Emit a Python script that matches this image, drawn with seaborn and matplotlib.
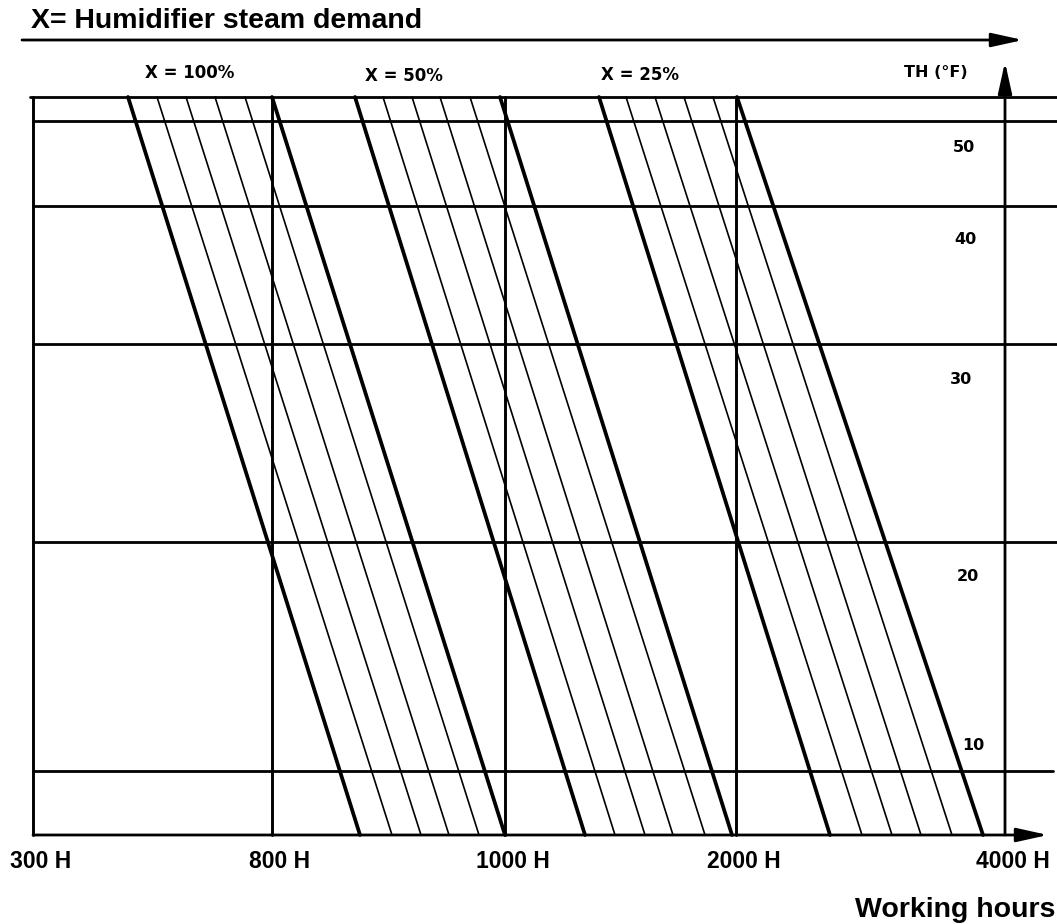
import matplotlib
matplotlib.use("Agg")
import matplotlib.pyplot as plt
import pandas as pd
import seaborn as sns

# ---- chart data (chart units: x measured from the 300 H axis, y above the hours axis) ----
hour_labels = ["300 H", "800 H", "1000 H", "2000 H", "4000 H"]
hour_pos = [0, 239, 472, 703, 972]

# hardness (TH) grid: frame top followed by the reference lines
th_grid = [738, 714, 629, 491, 293, 64]
th_labels = ["50", "40", "30", "20", "10"]
th_label_x = [931, 932, 928, 935, 940]
th_label_y = [683, 591, 451, 254, 85]

# steam-demand bundles: x of each line at the top and at the bottom of the chart
demand_labels = ["X = 100%", "X = 50%", "X = 25%"]
demand_label_x = [157, 371, 607]
demand_label_y = [757, 754, 755]
bundle_top = [
    [95, 124, 153, 182, 212, 239],
    [322, 350, 379, 407, 437, 467],
    [566, 593, 622, 651, 680, 704],
]
bundle_bottom = [
    [327, 359, 388, 416, 446, 472],
    [552, 582, 612, 640, 672, 699],
    [797, 829, 859, 888, 919, 950],
]

chart_top = th_grid[0]

sns.set_theme(style="white")
plt.rcParams["font.family"] = ["DejaVu Sans"]

fig = plt.figure(figsize=(10.57, 9.24), dpi=100)
ax = fig.add_axes([0, 0, 1, 1])
ax.set_xlim(-33, 1024)
ax.set_ylim(-89, 835)
ax.axis("off")

# ---- diagonal working-hour lines ----
rows = []
for b, (tops, bots) in enumerate(zip(bundle_top, bundle_bottom)):
    for i, (xt, xb) in enumerate(zip(tops, bots)):
        w = "thick" if i in (0, len(tops) - 1) else "thin"
        rows.append({"line": f"{b}-{i}", "x": xt, "y": chart_top, "weight": w})
        rows.append({"line": f"{b}-{i}", "x": xb, "y": 0, "weight": w})
lines = pd.DataFrame(rows)
sns.lineplot(data=lines, x="x", y="y", units="line", estimator=None,
             size="weight", sizes={"thick": 2.7, "thin": 1.2},
             color="black", legend=False, sort=False, ax=ax)

# ---- frame, grid and axes ----
ink = "black"
ax.plot([-3, 1024], [chart_top, chart_top], color=ink, lw=2.0)
for y in th_grid[1:-1]:
    ax.plot([0, 1024], [y, y], color=ink, lw=2.0)
ax.plot([0, 1020], [th_grid[-1], th_grid[-1]], color=ink, lw=2.0)

for x in hour_pos[:-1]:
    ax.plot([x, x], [0, chart_top], color=ink, lw=2.1)

arrow = dict(arrowstyle="-|>,head_length=1.9,head_width=0.42",
             color=ink, lw=2.0, shrinkA=0, shrinkB=0, mutation_scale=10)
# vertical TH axis
ax.annotate("", xy=(hour_pos[-1], 773), xytext=(hour_pos[-1], 0), arrowprops=arrow)
# working-hours axis
ax.annotate("", xy=(1015, 0), xytext=(0, 0), arrowprops=arrow)
# steam-demand axis
ax.annotate("", xy=(990, 795), xytext=(-11, 795), arrowprops=arrow)

# ---- text ----
bold_font = dict(family="Liberation Sans", weight="bold", color=ink)
ax.text(-2, 807, "X= Humidifier steam demand", ha="left", va="baseline",
        fontsize=20.5, **bold_font)
ax.text(1022, -82, "Working hours", ha="right", va="baseline",
        fontsize=20.5, **bold_font)
for x, lab in zip(hour_pos, hour_labels):
    ax.text(x + 8, -33, lab, ha="center", va="baseline", fontsize=16.5, **bold_font)

small_font = dict(family="DejaVu Sans", weight="bold", color=ink)
for x, y, lab in zip(demand_label_x, demand_label_y, demand_labels):
    ax.text(x, y, lab, ha="center", va="baseline", fontsize=12, **small_font)
ax.text(903, 758, "TH (°F)", ha="center", va="baseline", fontsize=11.5, **small_font)
for x, y, lab in zip(th_label_x, th_label_y, th_labels):
    ax.text(x, y, lab, ha="center", va="baseline", fontsize=11.5, **small_font)

fig.savefig("out.png", dpi=100, facecolor="white")
